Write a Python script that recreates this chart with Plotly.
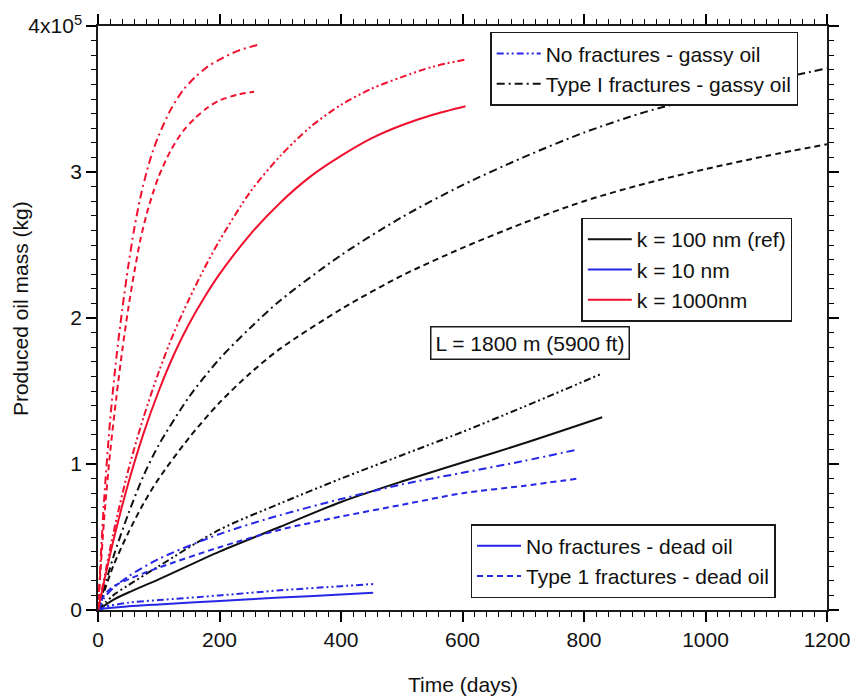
import plotly.graph_objects as go

# Produced oil mass vs time; masses are in units of 1e5 kg (axis labelled "4x10^5" at top)

# k = 100 nm (reference)
days_k100_nofrac_dead = [0, 25, 50, 100, 200, 300, 400, 500, 600, 700, 830]
mass_k100_nofrac_dead = [0, 0.07, 0.12, 0.21, 0.40, 0.57, 0.74, 0.88, 1.01, 1.14, 1.32]
days_k100_nofrac_gassy = [0, 25, 50, 100, 200, 300, 400, 500, 600, 700, 830]
mass_k100_nofrac_gassy = [0, 0.10, 0.17, 0.30, 0.55, 0.73, 0.90, 1.06, 1.22, 1.39, 1.62]
days_k100_frac_dead = [0, 25, 50, 75, 100, 150, 200, 250, 300, 400, 500, 600, 700, 800, 900, 1000, 1100, 1200]
mass_k100_frac_dead = [0, 0.30, 0.53, 0.73, 0.90, 1.18, 1.42, 1.62, 1.79, 2.06, 2.29, 2.48, 2.65, 2.80, 2.92, 3.02, 3.11, 3.19]
days_k100_frac_gassy = [0, 25, 50, 75, 100, 150, 200, 250, 300, 400, 500, 600, 700, 800, 900, 1000, 1100, 1200]
mass_k100_frac_gassy = [0, 0.36, 0.66, 0.92, 1.13, 1.46, 1.72, 1.93, 2.12, 2.43, 2.69, 2.91, 3.10, 3.27, 3.41, 3.52, 3.62, 3.71]

# k = 10 nm
days_k10_nofrac_dead = [0, 10, 50, 100, 200, 300, 400, 453]
mass_k10_nofrac_dead = [0, 0.01, 0.025, 0.038, 0.062, 0.085, 0.106, 0.118]
days_k10_nofrac_gassy = [0, 10, 50, 100, 200, 300, 400, 453]
mass_k10_nofrac_gassy = [0, 0.02, 0.05, 0.068, 0.10, 0.135, 0.163, 0.178]
days_k10_frac_dead = [0, 10, 25, 50, 100, 200, 300, 400, 500, 600, 700, 790]
mass_k10_frac_dead = [0, 0.10, 0.16, 0.21, 0.29, 0.43, 0.55, 0.64, 0.72, 0.80, 0.85, 0.90]
days_k10_frac_gassy = [0, 10, 25, 50, 100, 200, 300, 400, 500, 600, 700, 790]
mass_k10_frac_gassy = [0, 0.08, 0.15, 0.23, 0.35, 0.52, 0.65, 0.76, 0.86, 0.94, 1.02, 1.10]

# k = 1000 nm
days_k1000_nofrac_dead = [0, 25, 50, 75, 100, 125, 150, 175, 200, 250, 300, 350, 400, 450, 500, 550, 605]
mass_k1000_nofrac_dead = [0, 0.47, 0.87, 1.21, 1.50, 1.75, 1.96, 2.14, 2.30, 2.57, 2.79, 2.97, 3.11, 3.23, 3.32, 3.39, 3.45]
days_k1000_nofrac_gassy = [0, 25, 50, 75, 100, 125, 150, 175, 200, 250, 300, 350, 400, 450, 500, 550, 605]
mass_k1000_nofrac_gassy = [0, 0.52, 0.96, 1.32, 1.63, 1.90, 2.13, 2.34, 2.53, 2.86, 3.11, 3.31, 3.46, 3.57, 3.65, 3.72, 3.77]
days_k1000_frac_dead = [0, 10, 20, 30, 40, 50, 60, 70, 80, 90, 100, 120, 140, 160, 180, 200, 230, 257]
mass_k1000_frac_dead = [0, 0.62, 1.08, 1.45, 1.78, 2.07, 2.32, 2.54, 2.71, 2.85, 2.97, 3.15, 3.28, 3.37, 3.44, 3.49, 3.53, 3.55]
days_k1000_frac_gassy = [0, 10, 20, 30, 40, 50, 60, 70, 80, 90, 100, 120, 140, 160, 180, 200, 230, 262]
mass_k1000_frac_gassy = [0, 0.75, 1.30, 1.72, 2.06, 2.36, 2.62, 2.83, 3.00, 3.14, 3.25, 3.43, 3.56, 3.65, 3.72, 3.77, 3.83, 3.87]

# top y tick carries the 10^5 multiplier
y_label_alias = {"4": "4x10<sup>5</sup>"}

BLACK = "#111111"
BLUE = "#2626e6"
RED = "#f0102e"

DASH_SOLID = "solid"
DASH_DASHED = "6px,4px"
DASH_DASHDOT = "8px,4px,2px,4px"
DASH_DASHDOTDOT = "7px,3px,2px,3px,2px,3px"

FONT = "Liberation Sans, Arial, sans-serif"
FS = 21
AXIS_COLOR = "#1a1a1a"

series = [
    (days_k100_nofrac_dead, mass_k100_nofrac_dead, BLACK, DASH_SOLID),
    (days_k100_nofrac_gassy, mass_k100_nofrac_gassy, BLACK, DASH_DASHDOTDOT),
    (days_k100_frac_dead, mass_k100_frac_dead, BLACK, DASH_DASHED),
    (days_k100_frac_gassy, mass_k100_frac_gassy, BLACK, DASH_DASHDOT),
    (days_k10_nofrac_dead, mass_k10_nofrac_dead, BLUE, DASH_SOLID),
    (days_k10_nofrac_gassy, mass_k10_nofrac_gassy, BLUE, DASH_DASHDOTDOT),
    (days_k10_frac_dead, mass_k10_frac_dead, BLUE, DASH_DASHED),
    (days_k10_frac_gassy, mass_k10_frac_gassy, BLUE, DASH_DASHDOT),
    (days_k1000_nofrac_dead, mass_k1000_nofrac_dead, RED, DASH_SOLID),
    (days_k1000_nofrac_gassy, mass_k1000_nofrac_gassy, RED, DASH_DASHDOTDOT),
    (days_k1000_frac_dead, mass_k1000_frac_dead, RED, DASH_DASHED),
    (days_k1000_frac_gassy, mass_k1000_frac_gassy, RED, DASH_DASHDOT),
]

fig = go.Figure()
for d, m, c, dash in series:
    fig.add_trace(go.Scatter(
        x=d, y=m, mode="lines",
        line=dict(color=c, width=2, dash=dash, shape="spline", smoothing=0.8),
        showlegend=False, hoverinfo="skip",
    ))

# legend entries (style keys)
legend_entries = [
    ("No fractures - gassy oil", BLUE, DASH_DASHDOTDOT, "legend"),
    ("Type I fractures - gassy oil", BLACK, DASH_DASHDOT, "legend"),
    ("k = 100 nm (ref)", BLACK, DASH_SOLID, "legend2"),
    ("k = 10 nm", BLUE, DASH_SOLID, "legend2"),
    ("k = 1000nm", RED, DASH_SOLID, "legend2"),
    ("No fractures - dead oil", BLUE, DASH_SOLID, "legend3"),
    ("Type 1 fractures - dead oil", BLUE, DASH_DASHED, "legend3"),
]
for name, c, dash, lg in legend_entries:
    fig.add_trace(go.Scatter(
        x=[None], y=[None], mode="lines", name=name,
        line=dict(color=c, width=2, dash=dash), legend=lg,
    ))

legend_style = dict(
    bgcolor="white", bordercolor=AXIS_COLOR, borderwidth=1.5,
    font=dict(family=FONT, size=FS, color="#111111"),
    xanchor="left", yanchor="top", traceorder="normal", itemwidth=44,
)

fig.update_layout(
    width=862, height=700,
    margin=dict(l=98, r=30, t=18, b=90),
    paper_bgcolor="white", plot_bgcolor="white",
    legend=dict(x=0.538, y=0.99, **legend_style),
    legend2=dict(x=0.663, y=0.672, **legend_style),
    legend3=dict(x=0.511, y=0.147, **legend_style),
    xaxis=dict(range=[0, 1200], tick0=0, dtick=200,
               ticks="outside", ticklen=10, tickwidth=1.5, tickcolor="black",
               showline=True, linecolor=AXIS_COLOR, linewidth=1.5, mirror="allticks",
               showgrid=False, zeroline=False,
               tickfont=dict(family=FONT, size=FS, color="#111111"),
               minor=dict(ticks="outside", ticklen=5, tickwidth=1, tickcolor="black", dtick=20)),
    yaxis=dict(range=[0, 4], tick0=0, dtick=1, labelalias=y_label_alias,
               ticks="outside", ticklen=10, tickwidth=1.5, tickcolor="black",
               showline=True, linecolor=AXIS_COLOR, linewidth=1.5, mirror="allticks",
               showgrid=False, zeroline=False,
               tickfont=dict(family=FONT, size=FS, color="#111111"),
               minor=dict(ticks="outside", ticklen=5, tickwidth=1, tickcolor="black", dtick=0.1)),
    annotations=[
        dict(text="L = 1800 m (5900 ft)", x=711, y=1.83, xref="x", yref="y",
             showarrow=False, bgcolor="white", bordercolor=AXIS_COLOR, borderwidth=1.5,
             borderpad=4, font=dict(family=FONT, size=FS, color="#111111")),
        dict(text="Time (days)", x=0.5, y=-0.128, xref="paper", yref="paper",
             xanchor="center", yanchor="middle", showarrow=False,
             font=dict(family=FONT, size=FS, color="#111111")),
        dict(text="Produced oil mass (kg)", x=-0.107, y=0.517, xref="paper", yref="paper",
             xanchor="center", yanchor="middle", textangle=-90, showarrow=False,
             font=dict(family=FONT, size=FS, color="#111111")),
    ],
)

fig.write_html("out.html")
